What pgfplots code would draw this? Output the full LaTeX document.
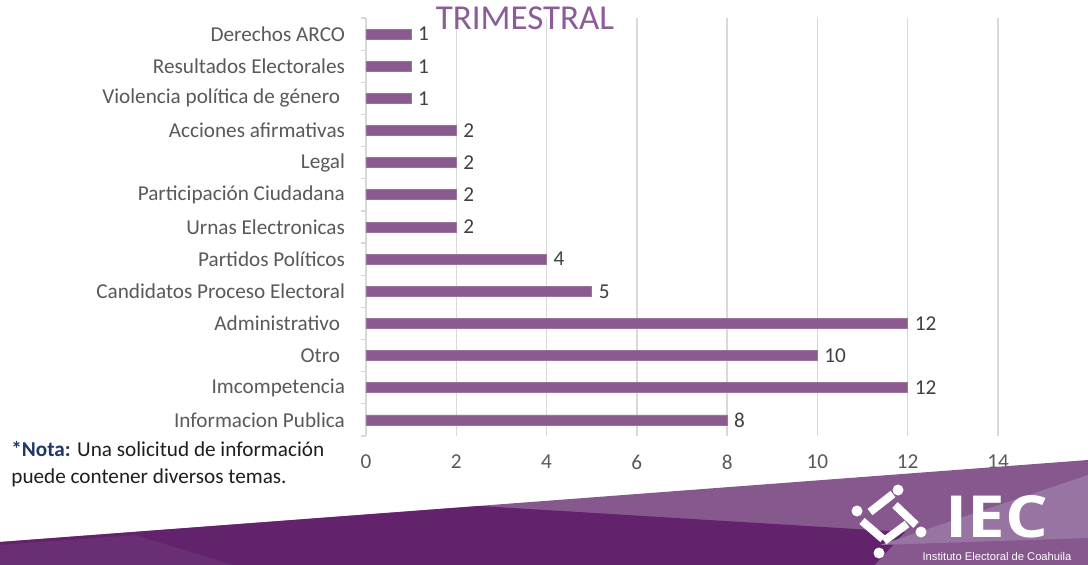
\documentclass[border=0pt]{standalone}
\usepackage{pgfplots}
\pgfplotsset{compat=1.18}
\usepackage{fontspec}
\setmainfont{Carlito}
\newfontfamily\opensans{Open Sans}
\newfontfamily\libsans{Liberation Sans}
\definecolor{barc}{RGB}{138,90,142}
\definecolor{titlec}{RGB}{140,92,152}
\definecolor{lblc}{RGB}{89,89,89}
\definecolor{datac}{RGB}{64,64,64}
\definecolor{gridc}{RGB}{217,217,217}
\definecolor{notac}{RGB}{31,56,100}
\definecolor{notetxt}{RGB}{30,30,30}
\definecolor{fmid}{RGB}{134,88,142}
\definecolor{fdark}{RGB}{98,34,108}
\definecolor{flight}{RGB}{152,116,163}
\definecolor{fdark2}{RGB}{106,46,116}
\begin{document}
\begin{tikzpicture}
\useasboundingbox (0,0) rectangle (544pt,282pt);
\clip (0,0) rectangle (544pt,282pt);
\fill[white] (0,0) rectangle (544pt,282pt);
\begin{axis}[
 at={(183pt,64pt)}, anchor=south west,
 scale only axis, width=316pt, height=209pt,
 xmin=0, xmax=14, ymin=-0.5, ymax=12.5,
 xtick={0,2,...,14},
 ytick={0,...,12},
 yticklabels={Informacion Publica, Imcompetencia, Otro\kern.23em, Administrativo\kern.23em, Candidatos Proceso Electoral, Partidos Políticos, Urnas Electronicas, Participación Ciudadana, Legal, Acciones afirmativas, Violencia política de género\kern.23em, Resultados Electorales, Derechos ARCO},
 minor ytick={-0.5,0.5,...,12.5},
 ytick pos=left,
 major tick length=0pt,
 minor tick length=2.5pt,
 tick align=outside,
 tick style={draw=gridc, line width=0.6pt},
 xmajorgrids, grid style={draw=gridc, line width=0.7pt},
 axis line style={draw=none},
 xtick style={draw=none},
 ticklabel style={font=\fontsize{10.6}{12}\selectfont, text=lblc},
 yticklabel style={xshift=-7pt},
 xticklabel style={yshift=-6pt},
 /pgf/number format/assume math mode=true,
 xbar, bar width=5pt,
 nodes near coords,
 nodes near coords style={font=\fontsize{10.6}{12}\selectfont, text=datac, anchor=west},
 clip=false,
]
\addplot[fill=barc, draw=barc!85!white, line width=0.4pt] coordinates {(8,0) (12,1) (10,2) (12,3) (5,4) (4,5) (2,6) (2,7) (2,8) (2,9) (1,10) (1,11) (1,12)};
\end{axis}
\begin{scope}[x=0.5pt,y=-0.5pt,yshift=282pt]
 \node[anchor=base, text=titlec, font=\fontsize{17.5}{20}\selectfont, inner sep=0] at (525,30) {TRIMESTRAL};
 \node[anchor=base west, inner sep=0, text=notetxt, font=\fontsize{10.6}{12}\selectfont] at (11,456) {\textcolor{notac}{\textbf{*Nota:}} Una solicitud de información};
 \node[anchor=base west, inner sep=0, text=notetxt, font=\fontsize{10.6}{12}\selectfont] at (11,483) {puede contener diversos temas.};
 % footer
 \fill[fmid] (0,542) -- (1088,460) -- (1088,570) -- (0,570) -- cycle;
 \fill[fdark] (0,542) -- (480,506) -- (905,532) -- (870,570) -- (0,570) -- cycle;
 \fill[fdark2] (0,545) -- (135,535) -- (250,570) -- (0,570) -- cycle;
 \fill[flight] (1088,475) -- (880,545) -- (1088,538) -- cycle;
 % logo
 \begin{scope}[white]
  \draw[line width=4pt] (870,512) -- (893,494);
  \draw[line width=4pt] (895,505) -- (916,525);
  \draw[line width=4pt] (884,541) -- (907,524);
  \draw[line width=4pt] (862,521) -- (883,539);
  \fill (857,511) circle (5.5);
  \fill (898,490) circle (5.5);
  \fill (921,532) circle (5.5);
  \fill (879,553) circle (5.5);
 \end{scope}
 \node[anchor=base, inner sep=0, text=white, font=\opensans\bfseries\fontsize{29}{29}\selectfont, xscale=1.16] at (997,537) {IEC};
 \node[anchor=base, inner sep=0, text=white, font=\libsans\fontsize{5.6}{6}\selectfont] at (997,560) {Instituto Electoral de Coahuila};
\end{scope}
\end{tikzpicture}
\end{document}
